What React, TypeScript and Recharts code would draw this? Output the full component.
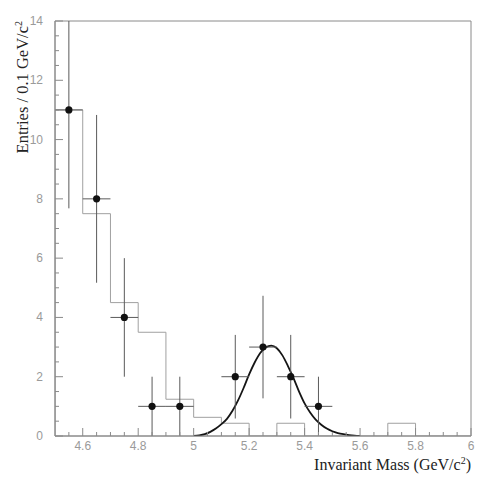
import React from 'react';
import { ComposedChart, Line, Scatter, ErrorBar, XAxis, YAxis, ReferenceArea, Label } from 'recharts';

// MC histogram (step), left bin edges and contents
const binEdges = [4.5, 4.5, 4.6, 4.7, 4.8, 4.9, 5.0, 5.1, 5.2, 5.3, 5.4, 5.7, 5.8, 6.0];
const binHeights = [0, 11, 7.5, 4.5, 3.5, 1.24, 0.63, 0.43, 0, 0.43, 0, 0.43, 0, 0];

// data points with errors (the first upper error runs off the top of the frame)
const pointMass = [4.55, 4.65, 4.75, 4.85, 4.95, 5.15, 5.25, 5.35, 5.45];
const pointCounts = [11, 8, 4, 1, 1, 2, 3, 2, 1];
const pointErrLow = [3.32, 2.83, 2, 1, 1, 1.41, 1.73, 1.41, 1];
const pointErrHigh = [3.0, 2.83, 2, 1, 1, 1.41, 1.73, 1.41, 1];
const pointErrX = [0.05, 0.05, 0.05, 0.05, 0.05, 0.05, 0.05, 0.05, 0.05];

// fitted signal curve
const fitMass = [5.0, 5.02, 5.04, 5.06, 5.08, 5.1, 5.12, 5.14, 5.16, 5.18, 5.2, 5.22, 5.24, 5.26, 5.28, 5.3, 5.32, 5.34, 5.36, 5.38, 5.4, 5.42, 5.44, 5.46, 5.48, 5.5, 5.52, 5.54, 5.56, 5.58, 5.6];
const fitValues = [0, 0.02, 0.06, 0.14, 0.25, 0.4, 0.58, 0.85, 1.2, 1.62, 2.08, 2.48, 2.8, 2.99, 3.05, 2.96, 2.72, 2.36, 1.95, 1.5, 1.1, 0.79, 0.55, 0.38, 0.25, 0.16, 0.1, 0.06, 0.03, 0.01, 0];

const xMajorTicks = [4.6, 4.8, 5, 5.2, 5.4, 5.6, 5.8, 6];
const xMinorTicks = [4.55, 4.65, 4.7, 4.75, 4.85, 4.9, 4.95, 5.05, 5.1, 5.15, 5.25, 5.3, 5.35, 5.45, 5.5, 5.55, 5.65, 5.7, 5.75, 5.85, 5.9, 5.95];
const yMajorTicks = [0, 2, 4, 6, 8, 10, 12, 14];
const yMinorTicks = [0.5, 1, 1.5, 2.5, 3, 3.5, 4.5, 5, 5.5, 6.5, 7, 7.5, 8.5, 9, 9.5, 10.5, 11, 11.5, 12.5, 13, 13.5];

const histData = binEdges.map((x, i) => ({ x, h: binHeights[i] }));
const pointData = pointMass.map((x, i) => ({
  x,
  y: pointCounts[i],
  ey: [pointErrLow[i], pointErrHigh[i]],
  ex: pointErrX[i],
}));
const fitData = fitMass.map((x, i) => ({ x, f: fitValues[i] }));

const AXIS = '#8a8a8a';
const TICK_TEXT = '#9a9a9a';
const SANS = '"Liberation Sans", Arial, sans-serif';
const SERIF = '"Liberation Serif", "Times New Roman", serif';

const XTick = (props: any) => {
  const { x, y, payload } = props;
  const major = xMajorTicks.includes(payload.value);
  return (
    <g>
      <line x1={x} x2={x} y1={y} y2={y - (major ? 8 : 4)} stroke={AXIS} />
      {major && (
        <text x={x} y={y + 14} textAnchor="middle" fontSize={12} fill={TICK_TEXT} fontFamily={SANS}>
          {payload.value}
        </text>
      )}
    </g>
  );
};

const YTick = (props: any) => {
  const { x, y, payload } = props;
  const major = yMajorTicks.includes(payload.value);
  return (
    <g>
      <line x1={x} x2={x + (major ? 8 : 4)} y1={y} y2={y} stroke={AXIS} />
      {major && (
        <text x={x - 12} y={y + 4} textAnchor="end" fontSize={12} fill={TICK_TEXT} fontFamily={SANS}>
          {payload.value}
        </text>
      )}
    </g>
  );
};

const XTitle = (props: any) => {
  const { viewBox } = props;
  return (
    <text x={viewBox.x + viewBox.width} y={viewBox.y + 34} textAnchor="end" fontSize={16} fill="#222" fontFamily={SERIF}>
      Invariant Mass (GeV/c<tspan dy={-6} fontSize={10}>2</tspan><tspan dy={6}>)</tspan>
    </text>
  );
};

const YTitle = (props: any) => {
  const { viewBox } = props;
  const tx = 28;
  const ty = viewBox.y;
  return (
    <text x={tx} y={ty} transform={`rotate(-90 ${tx} ${ty})`} textAnchor="end" fontSize={16.5} fill="#222" fontFamily={SERIF}>
      Entries / 0.1 GeV/c<tspan dy={-6} fontSize={10}>2</tspan>
    </text>
  );
};

export default function App() {
  return (
    <div style={{ position: 'absolute', left: 0, top: 0, background: '#fff' }}>
      <ComposedChart width={477} height={485} margin={{ top: 21, right: 6, bottom: 19, left: 0 }}>
        <XAxis
          type="number"
          dataKey="x"
          domain={[4.5, 6]}
          allowDataOverflow
          ticks={[...xMajorTicks, ...xMinorTicks].sort((a, b) => a - b)}
          interval={0}
          tick={<XTick />}
          tickLine={false}
          tickSize={0}
          tickMargin={0}
          height={30}
          axisLine={{ stroke: AXIS }}
        >
          <Label content={<XTitle />} />
        </XAxis>
        <YAxis
          type="number"
          domain={[0, 14]}
          allowDataOverflow
          ticks={[...yMajorTicks, ...yMinorTicks].sort((a, b) => a - b)}
          interval={0}
          tick={<YTick />}
          tickLine={false}
          tickSize={0}
          tickMargin={0}
          width={55}
          axisLine={{ stroke: AXIS }}
        >
          <Label content={<YTitle />} />
        </YAxis>
        <ReferenceArea x1={4.5} x2={6} y1={0} y2={14} fill="none" stroke={AXIS} strokeWidth={1} />
        <Line
          data={histData}
          dataKey="h"
          type="stepAfter"
          stroke="#a0a0a0"
          strokeWidth={1}
          dot={false}
          activeDot={false}
          isAnimationActive={false}
        />
        <Line
          data={fitData}
          dataKey="f"
          type="monotone"
          stroke="#151515"
          strokeWidth={1.8}
          dot={false}
          activeDot={false}
          isAnimationActive={false}
        />
        <Scatter
          data={pointData}
          dataKey="y"
          isAnimationActive={false}
          shape={(p: any) => <circle cx={p.cx} cy={p.cy} r={3.6} fill="#111" />}
        >
          <ErrorBar dataKey="ey" direction="y" width={0} stroke="#5a5a5a" strokeWidth={1} isAnimationActive={false} />
          <ErrorBar dataKey="ex" direction="x" width={0} stroke="#5a5a5a" strokeWidth={1} isAnimationActive={false} />
        </Scatter>
      </ComposedChart>
    </div>
  );
}
